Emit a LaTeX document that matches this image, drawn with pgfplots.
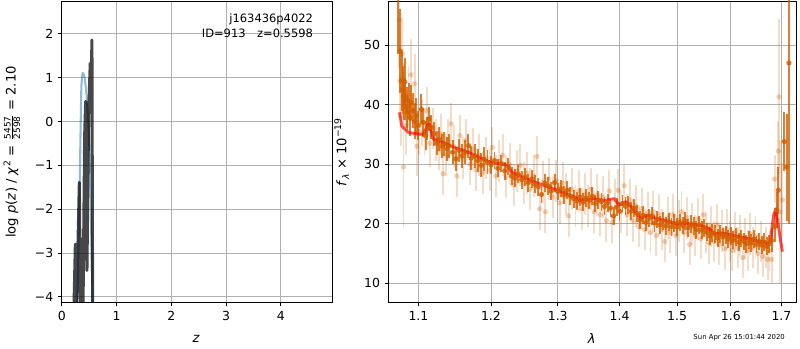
\documentclass[border=0pt]{standalone}
\usepackage{fontspec}
\setmainfont{DejaVu Sans}
\usepackage{amsmath}
\usepackage{pgfplots}
\usepackage{pgfplotstable}
\pgfplotsset{compat=1.18}
\definecolor{gridgray}{HTML}{B0B0B0}
\definecolor{dorange}{HTML}{D35F00}
\definecolor{pzblue}{HTML}{1F77B4}

\pgfplotstableread{
x y e
1.0737 57.5 9
1.0763 49.0 7
1.0780 44.0 5
1.0795 42.5 4
1.0805 41.4 4
1.0820 43.8 4
1.0830 40.9 3.5
1.0845 39.5 3.5
1.0857 38.7 3
1.0875 40.6 3
1.0890 37.8 3
1.0905 40.3 3
1.0931 39.0 3
1.0950 37.2 3
1.0970 38.1 3
1.1000 36.5 2.5
1.1039 39.2 2.5
1.1065 37.0 2.5
1.1096 34.8 2.5
1.1120 36.0 2
1.1140 37.6 2
1.1170 36.2 2
1.1210 35.1 2
1.1245 33.5 2
1.1280 34.2 2
1.1315 33.0 2
1.1348 33.4 2
1.1380 32.6 2
1.1414 33.1 2
1.1460 32.0 2
1.1505 30.9 2
1.1550 32.3 2
1.1590 31.4 2
1.1630 32.0 2
1.1680 33.1 2
1.1720 31.0 2
1.1767 31.4 2
1.1810 30.6 2
1.1860 29.8 2
1.1900 30.8 2
1.1950 30.3 2
1.2000 29.9 1.5
1.2050 30.6 1.5
1.2100 29.3 1.5
1.2150 30.1 1.5
1.2200 28.9 1.5
1.2250 29.6 1.5
1.2300 28.0 1.5
1.2350 27.6 1.5
1.2400 28.3 1.5
1.2450 27.4 1.5
1.2500 27.8 1.5
1.2550 26.9 1.5
1.2600 27.5 1.5
1.2650 26.6 1.5
1.2700 26.2 1.5
1.2750 24.9 1.5
1.2800 26.8 1.5
1.2850 26.3 1.5
1.2900 25.5 1.5
1.2950 26.9 1.5
1.3000 25.4 1.5
1.3050 25.9 1.5
1.3100 24.8 1.5
1.3150 25.6 1.5
1.3200 24.6 1.5
1.3250 24.2 1.5
1.3300 23.8 1.5
1.3350 24.5 1.5
1.3400 23.6 1.5
1.3450 24.3 1.5
1.3500 23.9 1.5
1.3550 24.6 1.5
1.3600 23.4 1.5
1.3650 24.0 1.5
1.3700 23.7 1.5
1.3750 22.9 1.5
1.3800 23.5 1.5
1.3850 22.6 1.5
1.3900 21.3 1.5
1.3950 22.8 1.5
1.4000 22.1 1.5
1.4050 23.4 1.5
1.4100 22.9 1.5
1.4150 23.2 1.5
1.4200 22.1 1.5
1.4250 22.6 1.5
1.4300 21.7 1.5
1.4350 20.6 1.5
1.4400 21.4 1.5
1.4450 20.2 1.5
1.4500 20.9 1.5
1.4550 21.3 1.5
1.4600 20.1 1.5
1.4650 20.7 1.5
1.4700 19.8 1.5
1.4750 20.5 1.5
1.4800 19.6 1.5
1.4850 20.3 1.5
1.4900 19.5 1.5
1.4950 20.1 1.5
1.5000 19.4 1.5
1.5050 20.2 1.5
1.5100 19.7 1.5
1.5150 20.4 1.5
1.5200 19.3 1.5
1.5250 19.9 1.5
1.5300 19.6 1.5
1.5350 19.0 1.5
1.5400 19.8 1.5
1.5450 18.9 1.5
1.5500 19.3 1.5
1.5550 18.6 1.5
1.5600 17.9 1.5
1.5650 18.5 1.5
1.5700 18.2 1.5
1.5750 17.6 1.5
1.5800 18.3 1.5
1.5850 17.8 1.5
1.5900 18.1 1.5
1.5950 17.4 1.5
1.6000 17.9 1.5
1.6050 17.2 1.5
1.6100 17.7 1.5
1.6150 16.9 1.5
1.6200 17.5 1.5
1.6250 17.0 1.5
1.6300 16.6 1.5
1.6350 17.3 1.5
1.6400 16.8 1.5
1.6450 17.4 1.5
1.6500 16.5 1.5
1.6550 17.0 1.5
1.6600 16.4 1.5
1.6650 16.9 1.5
1.6700 16.2 1.5
1.6750 16.6 1.5
1.6800 17.2 2
1.6860 19.5 2.5
1.6900 22.3 3
1.6937 25.6 4
1.7060 33.8 5
1.7110 29.5 9
1.7154 47.0 27
}\darkpts

\pgfplotstableread{
x y e
1.0750 54.2 8
1.0760 44.0 6
1.0770 38.0 5
1.0790 48.5 6
1.0805 29.5 10
1.0815 42.0 5
1.0840 36.5 5
1.0870 41.5 5
1.0900 45.0 6
1.0950 43.5 5
1.0980 33.0 5
1.1010 35.5 4
1.1050 37.0 4
1.1080 35.5 4
1.1110 39.0 4
1.1150 33.5 4
1.1200 36.0 3.5
1.1230 34.0 3.5
1.1270 32.5 3.5
1.1300 35.0 3.5
1.1330 28.4 3.5
1.1370 31.5 3.5
1.1400 34.0 3.5
1.1440 36.8 3.5
1.1480 33.0 3.5
1.1520 28.0 3.5
1.1560 34.8 3.5
1.1600 31.0 3.5
1.1650 34.0 3.5
1.1700 30.0 3.5
1.1740 32.5 3.5
1.1790 29.0 3.5
1.1830 31.5 3.5
1.1880 28.5 3.5
1.1930 31.0 3.5
1.1980 29.0 3.5
1.2020 32.8 3.5
1.2070 28.0 3.5
1.2120 30.5 3.5
1.2170 31.5 3.5
1.2220 27.8 3.5
1.2270 30.0 3.5
1.2330 26.5 3.5
1.2380 28.8 3.5
1.2430 29.8 3.5
1.2480 26.8 3.5
1.2530 28.5 3.5
1.2580 25.8 3.5
1.2630 28.0 3.5
1.2680 31.3 3.5
1.2720 22.5 3.5
1.2770 27.0 3.5
1.2810 22.0 3.5
1.2860 27.5 3.5
1.2920 24.5 3.5
1.2980 27.2 3.5
1.3030 23.5 3.5
1.3080 26.8 3.5
1.3130 25.0 3.5
1.3170 21.3 3.5
1.3220 25.8 3.5
1.3280 23.0 3.5
1.3330 25.5 3.5
1.3380 22.5 3.5
1.3430 25.0 3.5
1.3480 23.0 3.5
1.3530 25.8 3.5
1.3580 22.0 3.5
1.3630 24.8 3.5
1.3680 21.5 3.5
1.3730 24.5 3.5
1.3780 20.5 3.5
1.3830 25.5 3.5
1.3880 20.2 3.5
1.3930 24.0 3.5
1.3980 25.6 3.5
1.4020 22.0 3.5
1.4080 26.4 3.5
1.4130 21.5 3.5
1.4180 24.0 3.5
1.4230 20.5 3.5
1.4280 23.0 3.5
1.4330 19.5 3.5
1.4380 22.5 3.5
1.4430 19.0 3.5
1.4480 21.8 3.5
1.4530 18.5 3.5
1.4580 22.0 3.5
1.4630 18.0 3.5
1.4680 21.5 3.5
1.4730 19.0 3.5
1.4780 17.0 3.5
1.4830 21.0 3.5
1.4880 18.5 3.5
1.4930 21.5 3.5
1.4980 18.0 3.5
1.5030 20.5 3.5
1.5080 22.0 3.5
1.5130 18.5 3.5
1.5180 21.0 3.5
1.5230 16.5 3.5
1.5280 20.0 3.5
1.5330 18.0 3.5
1.5380 20.8 3.5
1.5430 17.5 3.5
1.5480 21.5 3.5
1.5530 18.5 3.5
1.5580 16.8 3.5
1.5630 19.5 3.5
1.5680 17.0 3.5
1.5730 19.8 3.5
1.5780 16.5 3.5
1.5830 18.8 3.5
1.5880 15.8 3.5
1.5930 19.0 3.5
1.5980 17.0 3.5
1.6030 15.5 3.5
1.6080 18.5 3.5
1.6130 16.0 3.5
1.6180 18.0 3.5
1.6230 14.3 3.5
1.6280 17.5 3.5
1.6330 15.5 3.5
1.6380 18.3 3.5
1.6430 16.0 3.5
1.6480 17.8 3.5
1.6530 15.0 3.5
1.6580 17.0 3.5
1.6630 14.5 3.5
1.6680 16.0 3.5
1.6720 14.0 3.5
1.6760 15.5 3.5
1.6800 14.0 4
1.6860 27.5 4
1.6937 32.2 5
1.6950 41.3 13
1.6970 22.0 12
1.7020 24.0 6
}\lightpts

\pgfplotsset{
  mpl/.style={
    scale only axis,
    axis line style={black, line width=0.6pt},
    grid=major,
    major grid style={gridgray, line width=0.6pt},
    tick style={black, line width=0.6pt},
    tick align=outside,
    xtick pos=bottom, ytick pos=left,
    major tick length=2.6pt,
    minor tick num=0,
    tick label style={font=\fontsize{9}{10}\selectfont},
    label style={font=\fontsize{9.5}{11}\selectfont},
    /pgf/number format/assume math mode=true,
  }
}

\begin{document}
\begin{tikzpicture}
% left panel: p(z)
\begin{axis}[mpl,
  at={(44.64pt,33.12pt)}, anchor=south west,
  width=195.84pt, height=218.16pt,
  xmin=0, xmax=4.95, ymin=-4.14, ymax=2.75,
  xtick={0,1,2,3,4},
  ytick={-4,-3,-2,-1,0,1,2},
  yticklabels={−4,−3,−2,−1,0,1,2},
  xlabel={\textit{z}},
  ylabel={log \textit{p}(\textit{z}) / \textit{χ}\textsuperscript{2} = $\frac{\text{\fontsize{6.5}{7}\selectfont 5457}}{\text{\fontsize{6.5}{7}\selectfont 2598}}$ = 2.10},
  xlabel style={at={(axis description cs:0.496,-0.119)}, anchor=center},
  ylabel style={at={(axis description cs:-0.184,0.5)}, anchor=center},
]
\addplot[pzblue, draw opacity=0.5, line width=1.5pt, line join=round] coordinates {
(0.275,-4.6) (0.300,-3.2) (0.327,-1.47) (0.345,-0.1) (0.358,0.80) (0.372,1.05)
(0.382,1.11) (0.400,1.08) (0.418,0.99) (0.440,0.78) (0.460,0.50) (0.480,0.10)
(0.497,-0.33) (0.512,-1.0) (0.527,-1.85) (0.543,-2.8) (0.558,-3.74) (0.570,-4.6)
};
\addplot[black, draw opacity=0.72, line width=2.2pt, line join=round] coordinates {
(0.218,-4.5) (0.248,-2.8) (0.267,-4.4) (0.321,-1.39) (0.340,-4.2) (0.358,-2.68)
(0.388,-4.3) (0.418,-0.33) (0.436,0.46) (0.460,-3.4) (0.490,0.12) (0.520,1.33)
(0.530,0.2) (0.551,1.86) (0.564,-4.5)
};
\node[anchor=base east, font=\fontsize{8.3}{9}\selectfont] at (axis description cs:0.945,0.930) {j163436p4022};
\node[anchor=base east, font=\fontsize{8.3}{9}\selectfont] at (axis description cs:0.945,0.880) {ID=913\quad z=0.5598};
\end{axis}

% right panel: spectrum
\begin{axis}[mpl,
  at={(280.8pt,33.12pt)}, anchor=south west,
  width=294.48pt, height=218.16pt,
  xmode=log, log basis x=10,
  xmin=1.0613, xmax=1.730, ymin=6.7, ymax=57.4,
  xtick={1.1,1.2,1.3,1.4,1.5,1.6,1.7},
  xticklabels={1.1,1.2,1.3,1.4,1.5,1.6,1.7},
  xminorticks=false,
  ytick={10,20,30,40,50},
  yticklabels={10,20,30,40,50},
  xlabel={\textit{λ}},
  ylabel={\textit{f}\textsubscript{\textit{λ}} × 10\textsuperscript{−19}},
  xlabel style={at={(axis description cs:0.499,-0.119)}, anchor=center},
  ylabel style={at={(axis description cs:-0.115,0.5)}, anchor=center},
]
\addplot[only marks, color=dorange, mark=*, mark size=1.9pt,
  mark options={draw opacity=0, fill=dorange, fill opacity=0.3},
  error bars/.cd, y dir=both, y explicit, error mark=none,
  error bar style={line width=1.4pt, color=dorange, draw opacity=0.22}]
  table[x=x, y=y, y error=e] {\lightpts};
\addplot[only marks, color=dorange, mark=*, mark size=1.9pt,
  mark options={draw opacity=0, fill=dorange, fill opacity=0.85},
  error bars/.cd, y dir=both, y explicit, error mark=none,
  error bar style={line width=1.4pt, color=dorange, draw opacity=0.8}]
  table[x=x, y=y, y error=e] {\darkpts};
\addplot[red, draw opacity=0.68, line width=2.1pt, line join=round] coordinates {
(1.0753,38.7) (1.0783,36.4) (1.0870,35.3) (1.1000,35.05) (1.1066,35.0) (1.1130,36.7)
(1.1150,36.5) (1.1200,34.2) (1.1310,33.7) (1.1490,32.8) (1.1680,32.0) (1.1860,31.0)
(1.2000,30.3) (1.2247,29.8) (1.2296,28.7) (1.2394,28.1) (1.2644,27.0) (1.2846,26.2)
(1.3000,25.6) (1.3262,24.5) (1.3367,23.9) (1.3580,24.2) (1.3745,23.9) (1.3910,24.2)
(1.4000,23.1) (1.4105,23.7) (1.4175,23.1) (1.4360,20.9) (1.4475,21.4) (1.4624,20.9)
(1.4883,20.3) (1.5000,19.9) (1.5124,20.05) (1.5425,19.7) (1.5580,19.2) (1.5670,18.4)
(1.5860,18.4) (1.6000,18.1) (1.6310,17.55) (1.6707,16.7) (1.6773,16.8) (1.6840,21.4)
(1.6887,22.5) (1.6936,19.7) (1.7020,15.3)
};
\end{axis}

\node[font=\fontsize{5}{6}\selectfont] at (534.2pt,7.9pt) {Sun Apr 26 15:01:44 2020};

\pgfresetboundingbox
\path[use as bounding box] (0,0) rectangle (578.16pt,252pt);
\end{tikzpicture}
\end{document}
